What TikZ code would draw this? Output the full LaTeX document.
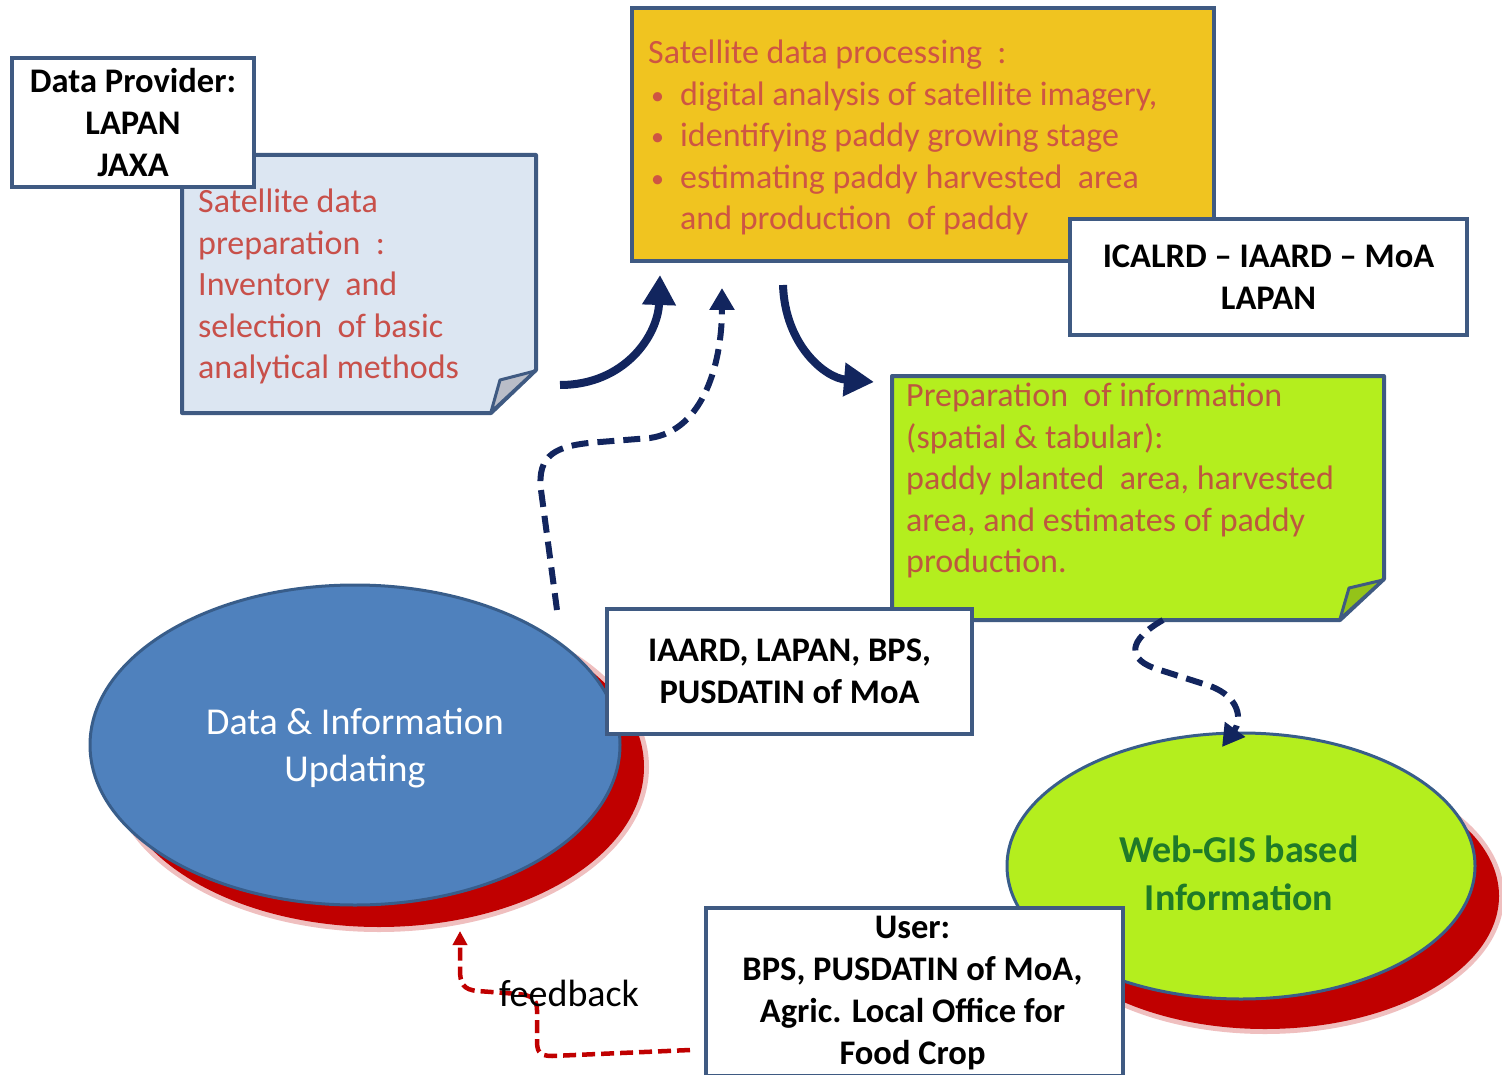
\documentclass[tikz,border=0pt]{standalone}
\usepackage{fontspec}
\setmainfont{Carlito}
\usetikzlibrary{arrows.meta,shapes.geometric}
\definecolor{bord}{HTML}{3F5A82}
\definecolor{notetext}{HTML}{C8504A}
\definecolor{lightblue}{HTML}{DCE6F2}
\definecolor{gold}{HTML}{F0C420}
\definecolor{lime}{HTML}{B4EE1E}
\definecolor{ellblue}{HTML}{4F81BD}
\definecolor{ellbord}{HTML}{385D8A}
\definecolor{navy}{HTML}{12255E}
\definecolor{shadowred}{HTML}{C00000}
\definecolor{webgreen}{HTML}{1F7A28}
\definecolor{foldgray}{HTML}{B9BDC8}
\newcommand{\bul}{\hspace*{3pt}\makebox[29pt][l]{\raisebox{1pt}{\fontsize{26}{26}\selectfont\textbullet}}}
\begin{document}
\begin{tikzpicture}[x=1pt,y=-1pt,
  wbox/.style={draw=bord, line width=4pt, fill=white, inner sep=0pt, align=center,
    font=\fontsize{34.5}{42}\selectfont\bfseries},
  notetxt/.style={inner sep=0pt, anchor=north west, align=left, text=notetext,
    font=\fontsize{34}{41.5}\selectfont},
  notebody/.style={draw=bord, line width=4pt, line join=round},
  fold/.style={draw=bord, line width=3pt, line join=round},
  ell/.style={ellipse, draw=ellbord, line width=3pt, inner sep=0pt, align=center,
    font=\fontsize{38}{47}\selectfont},
  shadow/.style={ellipse, fill=shadowred, draw=none, inner sep=0pt},
  shadowglow/.style={ellipse, fill=shadowred, opacity=0.25, draw=none, inner sep=0pt},
  solidarrow/.style={navy, line width=8pt, -{Triangle[width=32pt,length=30pt]}},
  dasharrow/.style={navy, line width=6pt, dash pattern=on 17pt off 9pt,
    -{Triangle[width=24pt,length=22pt]}},
  fbarrow/.style={shadowred, line width=4.5pt, dash pattern=on 13pt off 6pt,
    -{Triangle[width=14pt,length=14pt]}}
]
\useasboundingbox (0,0) rectangle (1502,1075);

% ---- shadows of the ellipses
\node[shadowglow, minimum width=540pt, minimum height=330pt] (dishadowglow) at (379,767) {};
\node[shadow, minimum width=530pt, minimum height=320pt] (dishadow) at (379,767) {};
\node[shadowglow, minimum width=478pt, minimum height=276pt] (wgshadowglow) at (1265,896) {};
\node[shadow, minimum width=468pt, minimum height=266pt] (wgshadow) at (1265,896) {};

% ---- ellipses
\node[ell, fill=ellblue, text=white, minimum width=530pt, minimum height=320pt] (di) at (355,745) {};
\node[inner sep=0pt, align=center, text=white, font=\fontsize{38}{47}\selectfont] (ditxt) at (355,748)
  {Data \& Information\\Updating};
\node[ell, fill=lime, minimum width=468pt, minimum height=266pt] (wg) at (1241,866) {};
\node[inner sep=0pt, align=center, text=webgreen, font=\fontsize{38}{48}\selectfont\bfseries] (wgtxt) at (1239,873)
  {Web-GIS based\\Information};

% ---- satellite data preparation note
\path[notebody, fill=lightblue] (182,155) -- (536,155) -- (536,370) -- (491,413) -- (182,413) -- cycle;
\path[fold, fill=foldgray] (491,412) -- (500,380) -- (535,371) -- cycle;
\node[notetxt] (prep) at (198,189)
  {Satellite data\\preparation\ \ :\\Inventory\ \ and\\selection\ \ of basic\\analytical methods};

% ---- data provider
\node[wbox, minimum width=242pt, minimum height=129pt] (provider) at (133,122.5)
  {Data Provider:\\LAPAN\\JAXA};

% ---- satellite data processing
\node[draw=bord, line width=4pt, fill=gold, minimum width=582pt, minimum height=253pt, inner sep=0pt] (proc) at (923,134.5) {};
\node[notetxt, text=notetext!90!orange] (proctxt) at (648,40)
  {Satellite data processing\ \ :\\
   \bul digital analysis of satellite imagery,\\
   \bul identifying paddy growing stage\\
   \bul estimating paddy harvested\ \ area\\
   \hspace*{32pt}and production\ \ of paddy};

% ---- ICALRD box
\node[wbox, minimum width=397pt, minimum height=116pt] (icalrd) at (1268.5,277)
  {ICALRD -- IAARD -- MoA\\LAPAN};

% ---- preparation of information note
\path[notebody, fill=lime] (892,376) -- (1384,376) -- (1384,579) -- (1340,620) -- (892,620) -- cycle;
\path[fold, fill=lime!70!black!60!lime] (1340,619) -- (1349,588) -- (1383,580) -- cycle;
\node[notetxt, text=notetext!85!olive] (infotxt) at (906,383)
  {Preparation\ \ of information\\(spatial \& tabular):\\paddy planted\ \ area, harvested\\area, and estimates of paddy\\production.};

% ---- IAARD box
\node[wbox, minimum width=365pt, minimum height=125pt] (iaard) at (789.5,671)
  {IAARD, LAPAN, BPS,\\PUSDATIN of MoA};

% ---- user box
\node[wbox, minimum width=417pt, minimum height=168pt, anchor=north west] (user) at (704,906) {};
\node[inner sep=0pt, align=center, font=\fontsize{34.5}{42}\selectfont\bfseries] (usertxt) at (912.5,993)
  {User:\\BPS, PUSDATIN of MoA,\\Agric. Local Office for\\Food Crop};

% ---- connectors
\coordinate (a1s) at (560,385);
\coordinate (a1e) at (660,275);
\draw[solidarrow] (a1s) .. controls (625,385) and (658,335) .. (a1e);

\coordinate (a2s) at (557,610);
\coordinate (a2e) at (722,288);
\draw[dasharrow] (a2s) -- (541,490) .. controls (537,455) and (555,445) .. (600,442)
  -- (650,438) .. controls (705,430) and (722,360) .. (a2e);

\coordinate (a3s) at (783,285);
\coordinate (a3e) at (874,382);
\draw[solidarrow] (a3s) .. controls (785,345) and (825,378) .. (a3e);

\coordinate (a4s) at (1163,620);
\coordinate (a4e) at (1222,747);
\draw[dasharrow] (a4s) .. controls (1128,640) and (1125,660) .. (1160,670)
  -- (1210,686) .. controls (1240,697) and (1242,720) .. (a4e);

\coordinate (fbs) at (690,1050);
\coordinate (fbe) at (460,931);
\draw[fbarrow] (fbs) -- (552,1056) .. controls (538,1056) and (537,1050) .. (537,1040)
  -- (537,1010) .. controls (537,998) and (530,995) .. (518,994)
  -- (478,991) .. controls (463,990) and (460,983) .. (460,970) -- (fbe);

\node[inner sep=0pt, font=\fontsize{38}{46}\selectfont] (fbtxt) at (569,993) {feedback};
\end{tikzpicture}
\end{document}
